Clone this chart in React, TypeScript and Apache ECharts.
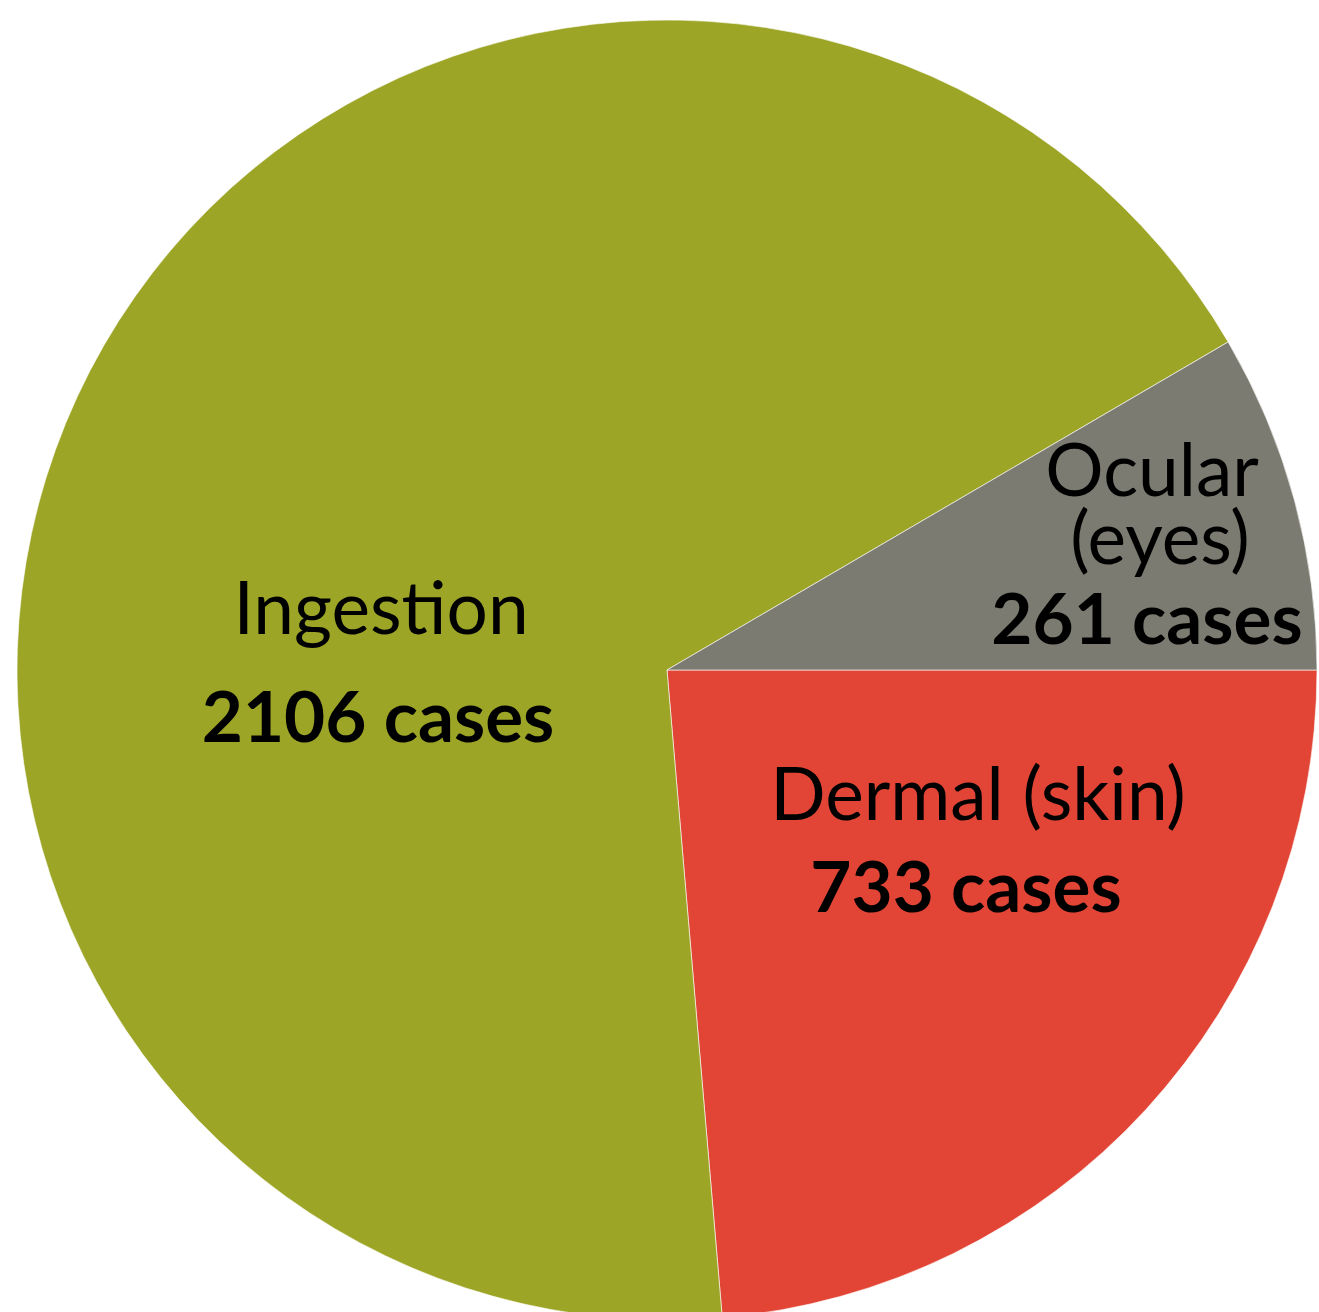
import React, { useEffect, useRef } from "react";
import * as echarts from "echarts";

const categories = ["Dermal (skin)", "Ingestion", "Ocular (eyes)"];
const caseCounts = [733, 2106, 261];
const labelLines = [
  ["Dermal (skin)"],
  ["Ingestion"],
  ["Ocular", "(eyes)"],
];
const sliceColors = ["#e24535", "#9ca526", "#7c7b71"];

// label placement (style only)
const labelCenters = [
  [978, 838],
  [381, 660],
  [1152, 548],
];

export default function App() {
  const ref = useRef<HTMLDivElement>(null);
  useEffect(() => {
    if (!ref.current) return;
    const chart = echarts.init(ref.current, null, { renderer: "svg" });
    const font = "Lato, 'Noto Sans', sans-serif";
    const reg = { fontSize: 73, fontFamily: font, color: "#000" };
    const bold = { fontSize: 71, fontFamily: font, fontWeight: "bold", color: "#000" };
    const richFor = (i: number) => {
      if (i === 0) {
        return {
          n0: { ...reg, lineHeight: 93 },
          b: { ...bold, lineHeight: 93, padding: [0, 24, 0, 0] },
        };
      }
      if (i === 1) {
        return {
          n0: { ...reg, lineHeight: 109 },
          b: { ...bold, lineHeight: 109, padding: [0, 6, 0, 0] },
        };
      }
      return {
        n0: { ...reg, lineHeight: 68 },
        n1: { ...reg, lineHeight: 68, padding: [0, 0, 0, 16] },
        b: { ...bold, lineHeight: 92, padding: [0, 10, 0, 0] },
      };
    };
    const data = categories.map((name, i) => ({
      name,
      value: caseCounts[i],
      itemStyle: { color: sliceColors[i] },
      label: {
        show: true,
        position: "inside",
        formatter: () =>
          labelLines[i].map((t, k) => `{n${k}|${t}}`).join("\n") +
          `\n{b|${caseCounts[i]} cases}`,
        rich: richFor(i),
      },
    }));
    chart.setOption({
      animation: false,
      backgroundColor: "#ffffff",
      series: [
        {
          type: "pie",
          center: [667, 670],
          radius: [0, 650],
          startAngle: 0,
          clockwise: true,
          avoidLabelOverlap: false,
          labelLine: { show: false },
          itemStyle: { borderColor: "#ffffff", borderWidth: 0.6 },
          emphasis: { disabled: true },
          data,
          labelLayout: (params: any) => {
            const c = labelCenters[params.dataIndex];
            return { x: c[0], y: c[1], align: "center", verticalAlign: "middle" };
          },
        },
      ],
    });
    return () => chart.dispose();
  }, []);
  return (
    <div
      ref={ref}
      style={{ position: "fixed", left: 0, top: 0, width: 1319, height: 1312 }}
    />
  );
}
